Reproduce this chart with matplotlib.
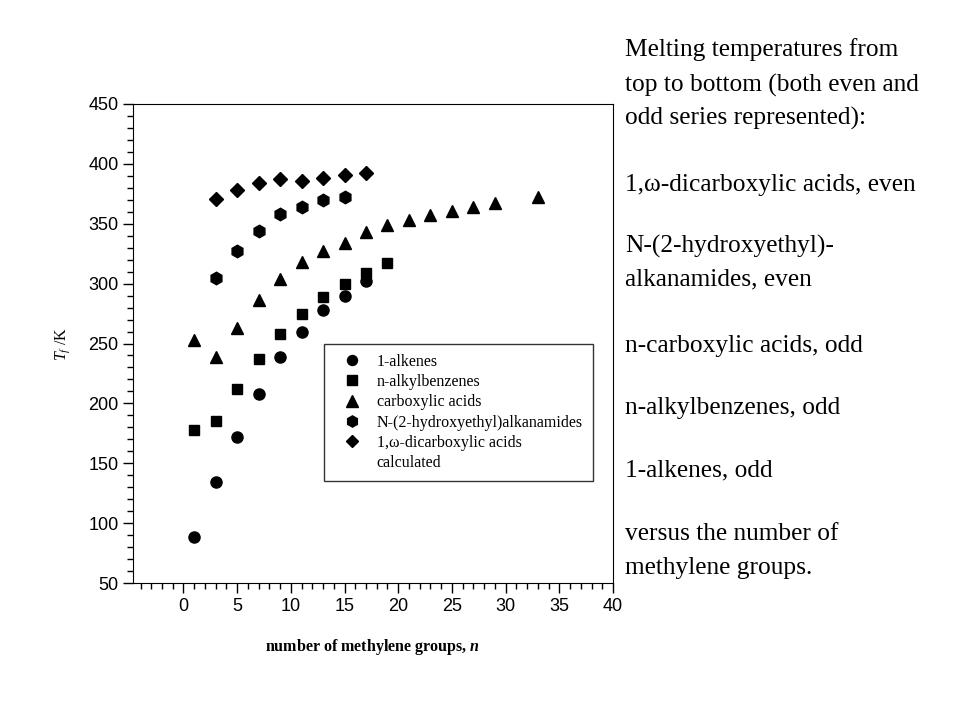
import numpy as np
import matplotlib
matplotlib.use("Agg")
import matplotlib.pyplot as plt
from matplotlib.ticker import MultipleLocator

plt.rcParams['mathtext.fontset'] = 'custom'
plt.rcParams['mathtext.rm'] = 'Liberation Serif'
plt.rcParams['mathtext.it'] = 'Liberation Serif:italic'
plt.rcParams['mathtext.bf'] = 'Liberation Serif:bold'
plt.rcParams['mathtext.bfit'] = 'Liberation Serif:bold:italic'

# data
n_alkenes = [1, 3, 5, 7, 9, 11, 13, 15, 17]
t_alkenes = [88, 134, 172, 208, 239, 260, 278, 290, 302]

n_benz = [1, 3, 5, 7, 9, 11, 13, 15, 17, 19]
t_benz = [178, 185, 212, 237, 258, 275, 289, 300, 309, 317]

n_carb = [1, 3, 5, 7, 9, 11, 13, 15, 17, 19, 21, 23, 25, 27, 29, 33]
t_carb = [253, 239, 263, 286, 304, 318, 327, 334, 343, 349, 353, 357, 361, 364, 367, 372]

n_amide = [3, 5, 7, 9, 11, 13, 15]
t_amide = [305, 327, 344, 358, 364, 370, 372]

n_dicarb = [3, 5, 7, 9, 11, 13, 15, 17]
t_dicarb = [371, 378, 384, 387, 386, 388, 391, 392]

labels = ["1-alkenes", "n-alkylbenzenes", "carboxylic acids",
          "N-(2-hydroxyethyl)alkanamides", "1,\u03c9-dicarboxylic acids", "calculated"]

side_text = [
    (50, "Melting temperatures from"),
    (85, "top to bottom (both even and"),
    (118, "odd series represented):"),
    (185, "1,\u03c9-dicarboxylic acids, even"),
    (246, "N-(2-hydroxyethyl)-"),
    (279, "alkanamides, even"),
    (346, "n-carboxylic acids, odd"),
    (408, "n-alkylbenzenes, odd"),
    (470, "1-alkenes, odd"),
    (534, "versus the number of"),
    (568, "methylene groups."),
]

W, H = 960, 720
fig = plt.figure(figsize=(9.6, 7.2), dpi=100)
ax = fig.add_axes([133 / W, 1 - 583 / H, (613 - 133) / W, (583 - 104) / H])

ms = 8
ax.plot(n_alkenes, t_alkenes, 'o', color='black', ms=ms, label=labels[0])
ax.plot(n_benz, t_benz, 's', color='black', ms=ms - 0.5, label=labels[1])
ax.plot(n_carb, t_carb, '^', color='black', ms=ms + 1, label=labels[2])
ax.plot(n_amide, t_amide, 'h', color='black', ms=ms + 1, label=labels[3])
ax.plot(n_dicarb, t_dicarb, 'D', color='black', ms=ms - 1, label=labels[4])
ax.plot([], [], '-', color='white', label=labels[5])

ax.set_xlim(-4.7, 40)
ax.set_ylim(50, 450)
ax.xaxis.set_major_locator(MultipleLocator(5))
ax.xaxis.set_minor_locator(MultipleLocator(1))
ax.yaxis.set_major_locator(MultipleLocator(50))
ax.yaxis.set_minor_locator(MultipleLocator(10))
ax.set_xticks(np.arange(0, 41, 5))
ax.tick_params(which='major', direction='out', length=7, width=1, labelsize=13)
ax.tick_params(which='minor', direction='out', length=4, width=1)
for lab in ax.get_xticklabels() + ax.get_yticklabels():
    lab.set_family('Liberation Sans')

ax.set_xlabel("number of methylene groups, $\\mathbfit{n}$", family='Liberation Serif',
              fontweight='bold', fontsize=11.5, labelpad=16)
ax.set_ylabel("$T_f$ /K", family='Liberation Serif', fontsize=11.5, labelpad=12)

leg = ax.legend(loc='upper left', bbox_to_anchor=((324 - 133) / 480, 1 - (344 - 104) / 479),
                prop={'family': 'Liberation Serif', 'size': 11.5}, frameon=True,
                fancybox=False, edgecolor='black', markerscale=0.9, handlelength=2.3,
                handletextpad=0.41, borderpad=0.6, labelspacing=0.27, borderaxespad=0)
leg.get_frame().set_linewidth(1)

for y, txt in side_text:
    fig.text(625 / W, 1 - y / H, txt, family='Liberation Serif', fontsize=18.3,
             va='center', ha='left')

fig.savefig("out.png", dpi=100)
